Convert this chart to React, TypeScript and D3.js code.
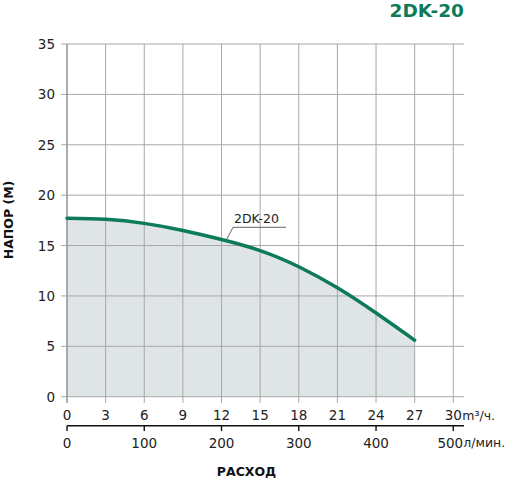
import React from "react";
import * as d3 from "d3";

const flowM3h = [0, 3, 6, 9, 12, 15, 18, 21, 24, 27];
const head = [17.7, 17.6, 17.2, 16.5, 15.6, 14.5, 12.9, 10.8, 8.3, 5.6];
const xTicksM3h = [0, 3, 6, 9, 12, 15, 18, 21, 24, 27, 30];
const xTicksLmin = [0, 100, 200, 300, 400, 500];
const yTicks = [0, 5, 10, 15, 20, 25, 30, 35];
const seriesName = "2DK-20";
const titleText = "2DK-20";
const yTitle = "НАПОР (М)";
const xTitle = "РАСХОД";
const unitM3h = "m³/ч.";
const unitLmin = "л/мин.";

const W = 508;
const H = 479;
const GREEN = "#0d7a5a";
const FONT = "'DejaVu Sans', 'Noto Sans', sans-serif";

export default function App() {
  const x = d3.scaleLinear().domain([0, 30]).range([67, 453.3]);
  const xL = d3.scaleLinear().domain([0, 500]).range([67, 453.3]);
  const y = d3.scaleLinear().domain([0, 35]).range([396.7, 44]);
  const pts: [number, number][] = flowM3h.map((f, i) => [f, head[i]]);
  const line = d3
    .line<[number, number]>()
    .x((d) => x(d[0]))
    .y((d) => y(d[1]))
    .curve(d3.curveNatural);
  const area = d3
    .area<[number, number]>()
    .x((d) => x(d[0]))
    .y0(y(0))
    .y1((d) => y(d[1]))
    .curve(d3.curveNatural);

  const gridRight = 464;
  const axisY2 = 425.7;

  return (
    <svg
      width={W}
      height={H}
      style={{ position: "absolute", left: 0, top: 0, background: "#fff" }}
      fontFamily={FONT}
    >
      <path d={area(pts) || ""} fill="#dfe4e6" />
      {yTicks.map((t) => (
        <line
          key={"h" + t}
          x1={61}
          x2={gridRight}
          y1={y(t)}
          y2={y(t)}
          stroke="#a8a8a8"
          strokeWidth={1}
        />
      ))}
      {xTicksM3h.map((t) => (
        <line
          key={"v" + t}
          x1={x(t)}
          x2={x(t)}
          y1={y(35)}
          y2={403}
          stroke={t === 0 ? "#999" : "#a8a8a8"}
          strokeWidth={t === 0 ? 1.6 : 1}
        />
      ))}
      {yTicks.map((t) => (
        <text
          key={"yl" + t}
          x={55}
          y={y(t)}
          textAnchor="end"
          dominantBaseline="central"
          fontSize={13.5}
          fill="#222"
        >
          {t}
        </text>
      ))}
      {xTicksM3h.map((t) => (
        <text
          key={"xl" + t}
          x={x(t)}
          y={415}
          textAnchor="middle"
          dominantBaseline="central"
          fontSize={13.5}
          fill="#222"
        >
          {t}
        </text>
      ))}
      <text x={x(30) + 9} y={415} dominantBaseline="central" fontSize={12.5} fill="#222">
        {unitM3h}
      </text>
      <line x1={x(0)} x2={gridRight} y1={axisY2} y2={axisY2} stroke="#111" strokeWidth={1.6} />
      {xTicksLmin.map((t) => (
        <g key={"lm" + t}>
          <line x1={xL(t)} x2={xL(t)} y1={axisY2} y2={431} stroke="#111" strokeWidth={1.4} />
          <text
            x={t === 500 ? xL(t) - 3 : xL(t)}
            y={442.7}
            textAnchor="middle"
            dominantBaseline="central"
            fontSize={13.5}
            fill="#222"
          >
            {t}
          </text>
        </g>
      ))}
      <text x={xL(500) + 10} y={442.7} dominantBaseline="central" fontSize={12.5} fill="#222">
        {unitLmin}
      </text>
      <path
        d={line(pts) || ""}
        fill="none"
        stroke={GREEN}
        strokeWidth={3.5}
        strokeLinecap="round"
      />
      <polyline
        points={`226.7,239.3 233,227.3 286,227.3`}
        fill="none"
        stroke="#555"
        strokeWidth={0.9}
      />
      <text x={234} y={223} fontSize={12.5} fill="#222">
        {seriesName}
      </text>
      <text
        x={464}
        y={17}
        textAnchor="end"
        fontSize={18.5}
        fontWeight="bold"
        fill={GREEN}
      >
        {titleText}
      </text>
      <text
        transform={`translate(8,220) rotate(-90)`}
        textAnchor="middle"
        dominantBaseline="central"
        fontSize={12.5}
        fontWeight="bold"
        fill="#111"
      >
        {yTitle}
      </text>
      <text
        x={246.5}
        y={471.5}
        textAnchor="middle"
        dominantBaseline="central"
        fontSize={12.5}
        fontWeight="bold"
        fill="#111"
      >
        {xTitle}
      </text>
    </svg>
  );
}
